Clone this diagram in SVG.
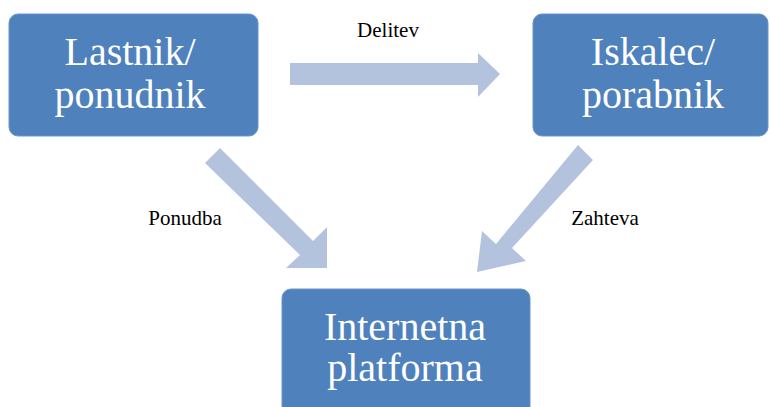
<svg xmlns="http://www.w3.org/2000/svg" width="771" height="407" viewBox="0 0 771 407">
<style>
.box{fill:#4F81BD;stroke:#6A94C8;stroke-width:1}
.bt{font-size:40px;fill:#fff;text-anchor:middle}
.lb{font-size:21px;fill:#000;text-anchor:middle}
.arr{fill:#B3C3DE}
</style>
<rect width="771" height="407" fill="#fff"/>
<g id="connectors">
<polygon class="arr" points="290,63 478,63 478,53 500,74 478,97 478,85 290,85"/>
<polygon class="arr" points="220,148 313,241 327,227 327,268 286,268 300,255 205,163"/>
<polygon class="arr" points="578,145 593,160 512,248 526,261 477,272 482,231 496,244"/>
</g>
<g font-family="Liberation Serif, Tinos, Times New Roman, Times, FreeSerif, Noto Serif, DejaVu Serif, serif">
<g id="lbl-delitev"><text class="lb" x="388" y="37">Delitev</text></g>
<g id="lbl-ponudba"><text class="lb" x="185" y="225">Ponudba</text></g>
<g id="lbl-zahteva"><text class="lb" x="605" y="225">Zahteva</text></g>
<g id="node-lastnik">
<rect class="box" x="9" y="14" width="249" height="122" rx="9"/>
<text class="bt" x="130" y="65">Lastnik/</text>
<text class="bt" x="130" y="108">ponudnik</text>
</g>
<g id="node-iskalec">
<rect class="box" x="533" y="14" width="235" height="122" rx="9"/>
<text class="bt" x="653" y="65">Iskalec/</text>
<text class="bt" x="653" y="108">porabnik</text>
</g>
<g id="node-platforma">
<rect class="box" x="282" y="289" width="248" height="130" rx="9"/>
<text class="bt" x="405" y="340">Internetna</text>
<text class="bt" x="405" y="381">platforma</text>
</g>
</g>
</svg>
